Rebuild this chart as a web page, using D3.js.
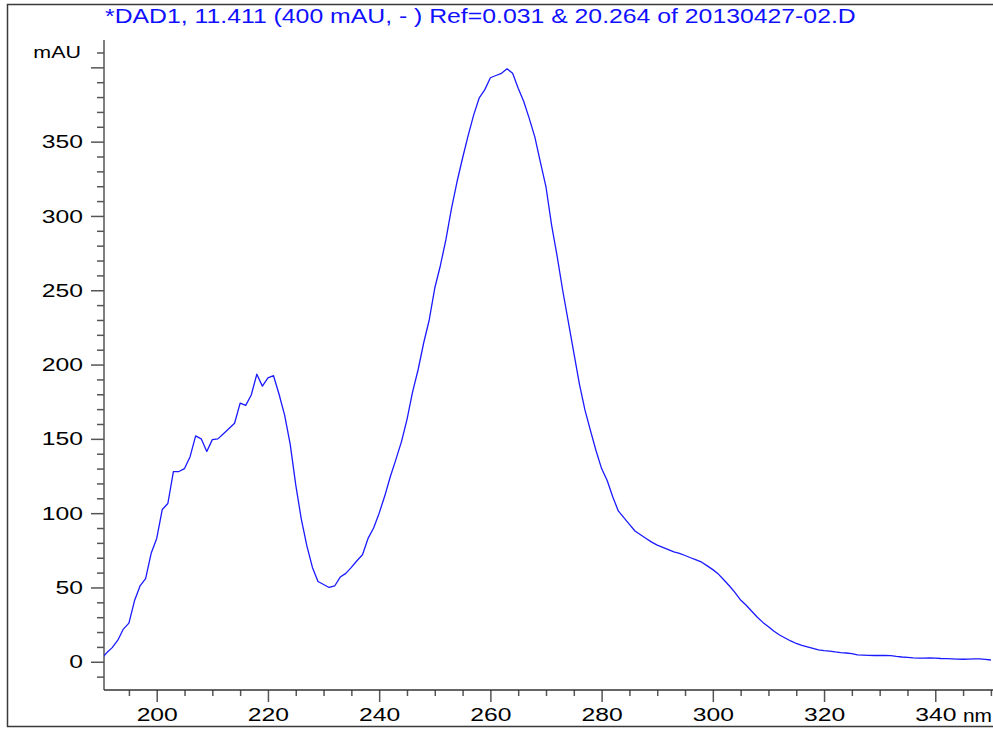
<!DOCTYPE html>
<html>
<head>
<meta charset="utf-8">
<script src="https://cdn.jsdelivr.net/npm/d3@7"></script>
<style>
  html, body { margin: 0; padding: 0; background: #fff; }
  svg { display: block; }
  text { font-family: "Liberation Sans", Arial, sans-serif; }
</style>
</head>
<body>
<svg id="chart" width="993" height="729"></svg>
<script>
// UV spectrum of the DAD1 peak at 11.411 min
const titleText = "*DAD1, 11.411 (400 mAU, - ) Ref=0.031 & 20.264 of 20130427-02.D";
const yUnit = "mAU";
const xUnit = "nm";

// wavelength (nm), 1 nm steps
const wavelengths = d3.range(190, 351);

// absorbance (mAU) at each wavelength
const absorbance = [
  2, 6, 9.5, 14.5, 22, 26, 41, 51, 56, 73,              // 190-199
  83, 102.5, 106.5, 128, 128, 130, 138, 152, 150, 141.5, // 200-209
  149.5, 150, 153.5, 157, 160.5, 174, 172.5, 179.5, 193.5, 185.5, // 210-219
  191, 192.5, 180, 166, 146.5, 119, 96, 78, 63.5, 54,   // 220-229
  52, 50, 51, 57, 59.5, 63.5, 68, 72, 83, 90,           // 230-239
  100, 111.5, 124.5, 136, 148, 163, 181.5, 196.5, 214.5, 230, // 240-249
  251.5, 266.5, 284, 305, 323, 339, 354, 368, 379.5, 385, // 250-259
  393, 394.5, 396, 399, 396, 386, 377, 365.5, 353, 336, // 260-269
  319.5, 294, 273, 250, 229, 208, 187, 169.5, 155.5, 142, // 270-279
  130, 122, 111, 101.5, 97, 92.5, 88, 85.5, 83, 80.5,   // 280-289
  78.5, 77, 75.5, 74, 73, 71.5, 70, 68.5, 67, 64.5,     // 290-299
  62, 59, 55, 51, 46.5, 41.5, 38, 34, 30, 26.5,         // 300-309
  23.5, 20.5, 18, 16, 14, 12.3, 11, 10, 9, 8,           // 310-319
  7.5, 7.2, 6.6, 6.1, 5.9, 5.5, 4.6, 4.5, 4.3, 4.2,     // 320-329
  4.2, 4.2, 4.1, 3.6, 3.2, 3.0, 2.6, 2.4, 2.5, 2.6,     // 330-339
  2.4, 2.2, 2.1, 2.0, 1.8, 1.7, 1.8, 2.0, 2.0, 1.6,     // 340-349
  1.2                                                   // 350
];

// axis ticks
const xMajorTicks = [200, 220, 240, 260, 280, 300, 320, 340];
const xMinorTicks = d3.range(195, 351, 5).filter(v => v % 20 !== 0);
const yMajorTicks = [0, 50, 100, 150, 200, 250, 300, 350, 400];
const yLabelTicks = [0, 50, 100, 150, 200, 250, 300, 350];
const yMinorTicks = d3.range(-10, 411, 10).filter(v => v % 50 !== 0);

const svg = d3.select("#chart");
const W = 993, H = 729;
const plotLeft = 104, plotRight = 993, plotTop = 40, plotBottom = 690;
// the instrument font is drawn wide: horizontal stretch for the labels
const labelStretch = 1.3;

const x = d3.scaleLinear().domain([190.52, 350.38]).range([plotLeft, plotRight]);
const y = d3.scaleLinear().domain([-19, 418.4]).range([plotBottom, plotTop]);

// outer frame
svg.append("path")
  .attr("d", `M${W + 2},4.5 H7.5 V726.5 H${W + 2}`)
  .attr("fill", "none")
  .attr("stroke", "#3a3a3a")
  .attr("stroke-width", 1.5);

// title
svg.append("text")
  .attr("transform", "translate(105,23) scale(1.24,1)")
  .attr("font-size", 20)
  .attr("fill", "#1010ff")
  .text(titleText);

const tickColor = "#555";

// y axis: minor then major ticks
const gy = svg.append("g").attr("transform", `translate(${plotLeft},0)`);
gy.append("g")
  .call(d3.axisLeft(y).tickValues(yMinorTicks).tickSize(7).tickSizeOuter(0).tickFormat(""))
  .call(g => g.select(".domain").remove());
gy.append("g")
  .call(d3.axisLeft(y).tickValues(yMajorTicks).tickSize(13).tickSizeOuter(0).tickPadding(8)
    .tickFormat(d => yLabelTicks.includes(d) ? d : ""))
  .call(g => g.select(".domain").remove());
gy.selectAll("line").attr("stroke", tickColor).attr("stroke-width", 1.5);
gy.selectAll("text")
  .attr("font-size", 19).attr("fill", "#000")
  .attr("font-family", "'Liberation Sans', Arial, sans-serif")
  .each(function () {
    const t = d3.select(this);
    const tx = +t.attr("x");
    t.attr("x", 0).attr("transform", `translate(${tx},0) scale(${labelStretch},1)`);
  });
gy.append("line")
  .attr("x1", 0).attr("x2", 0).attr("y1", plotTop).attr("y2", plotBottom)
  .attr("stroke", tickColor).attr("stroke-width", 1.5);

// y unit label
svg.append("text")
  .attr("transform", `translate(81,${y(410)}) scale(${labelStretch},1)`)
  .attr("dy", "0.35em")
  .attr("text-anchor", "end")
  .attr("font-size", 16.5)
  .attr("fill", "#000")
  .text(yUnit);

// x axis
const gx = svg.append("g").attr("transform", `translate(0,${plotBottom})`);
gx.append("g")
  .call(d3.axisBottom(x).tickValues(xMinorTicks).tickSize(6).tickSizeOuter(0).tickFormat(""))
  .call(g => g.select(".domain").remove());
gx.append("g")
  .call(d3.axisBottom(x).tickValues(xMajorTicks).tickSize(12).tickSizeOuter(0).tickPadding(6))
  .call(g => g.select(".domain").remove());
gx.selectAll("line").attr("stroke", tickColor).attr("stroke-width", 1.5);
gx.selectAll("text")
  .attr("font-size", 19).attr("fill", "#000")
  .attr("font-family", "'Liberation Sans', Arial, sans-serif")
  .attr("transform", `scale(${labelStretch},1)`);
gx.append("line")
  .attr("x1", plotLeft).attr("x2", plotRight).attr("y1", 0).attr("y2", 0)
  .attr("stroke", "#333").attr("stroke-width", 1.5);

// x unit label
svg.append("text")
  .attr("transform", "translate(963,722) scale(1.1,1)")
  .attr("font-size", 19)
  .attr("fill", "#000")
  .text(xUnit);

// spectrum trace, clipped to the plot area
svg.append("clipPath").attr("id", "plot-clip")
  .append("rect")
  .attr("x", plotLeft).attr("y", plotTop - 5)
  .attr("width", plotRight - plotLeft).attr("height", plotBottom - plotTop + 5);

const line = d3.line()
  .x((d, i) => x(wavelengths[i]))
  .y(d => y(d));

svg.append("path")
  .datum(absorbance)
  .attr("clip-path", "url(#plot-clip)")
  .attr("fill", "none")
  .attr("stroke", "#1a1aff")
  .attr("stroke-width", 1.3)
  .attr("stroke-linejoin", "round")
  .attr("d", line);
</script>
</body>
</html>
